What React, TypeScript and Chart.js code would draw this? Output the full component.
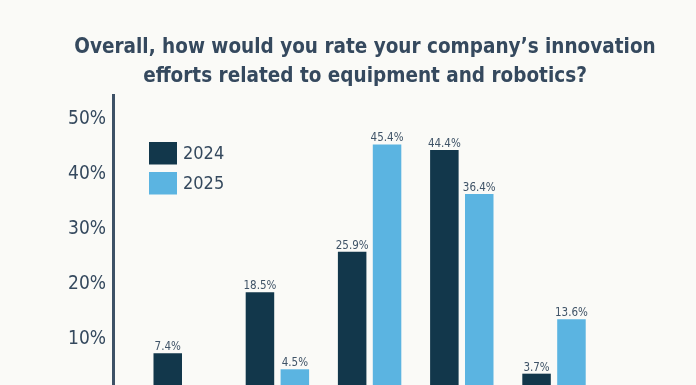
import React, { useEffect, useRef } from 'react';
import { Chart, registerables } from 'chart.js';

Chart.register(...registerables);

const TITLE_LINES = [
  'Overall, how would you rate your company’s innovation',
  'efforts related to equipment and robotics?',
];
// Category names are cropped out of the reference picture (x axis not visible)
const CATEGORIES = ['Poor', 'Fair', 'Good', 'Very good', 'Excellent'];
const SERIES_LABELS = ['2024', '2025'];
const VALUES_2024 = [7.4, 18.5, 25.9, 44.4, 3.7];
const VALUES_2025 = [0, 4.5, 45.4, 36.4, 13.6];
const Y_TICKS = [10, 20, 30, 40, 50];

const COLORS = ['#12374b', '#5bb4e1'];
const BG = '#fafaf7';
const TEXT = '#35495e';
const FONT = "'DejaVu Sans Condensed', 'DejaVu Sans', sans-serif";

const bgPlugin = {
  id: 'bg',
  beforeDraw(chart: any) {
    const { ctx, width, height } = chart;
    ctx.save();
    ctx.fillStyle = BG;
    ctx.fillRect(0, 0, width, height);
    ctx.restore();
  },
};

const valueLabels = {
  id: 'valueLabels',
  afterDatasetsDraw(chart: any) {
    const { ctx } = chart;
    ctx.save();
    ctx.font = `11.5px ${FONT}`;
    ctx.fillStyle = '#3f5367';
    ctx.textAlign = 'center';
    ctx.textBaseline = 'alphabetic';
    chart.data.datasets.forEach((ds: any, di: number) => {
      const meta = chart.getDatasetMeta(di);
      meta.data.forEach((el: any, i: number) => {
        const v = ds.data[i].y;
        if (!v) return;
        ctx.fillText(v.toFixed(1) + '%', el.x, el.y - 3);
      });
    });
    ctx.restore();
  },
};

const insideLegend = {
  id: 'insideLegend',
  afterDraw(chart: any) {
    const { ctx, chartArea } = chart;
    const x = chartArea.left + 36;
    const y0 = chartArea.top + 47;
    ctx.save();
    ctx.font = `18px ${FONT}`;
    ctx.textAlign = 'left';
    ctx.textBaseline = 'middle';
    chart.data.datasets.forEach((ds: any, i: number) => {
      const y = y0 + i * 30;
      ctx.fillStyle = ds.backgroundColor;
      ctx.fillRect(x, y, 28, 22.5);
      ctx.fillStyle = TEXT;
      ctx.fillText(ds.label, x + 34, y + 12);
    });
    ctx.restore();
  },
};

export default function App() {
  const ref = useRef<HTMLCanvasElement | null>(null);

  useEffect(() => {
    document.body.style.margin = '0';
    document.body.style.background = BG;
    document.body.style.overflow = 'hidden';
    const series = [VALUES_2024, VALUES_2025];
    const chart = new Chart(ref.current as HTMLCanvasElement, {
      type: 'bar',
      data: {
        labels: CATEGORIES,
        datasets: series.map((vals, si) => ({
          label: SERIES_LABELS[si],
          data: vals.map((v, i) => ({ x: i, y: v })),
          backgroundColor: COLORS[si],
          borderWidth: 0,
          categoryPercentage: 0.757,
          barPercentage: 0.817,
        })),
      },
      options: {
        animation: false,
        responsive: true,
        maintainAspectRatio: false,
        layout: { padding: { left: 34, right: 0, top: 0, bottom: 0 } },
        plugins: {
          legend: { display: false },
          tooltip: { enabled: false },
          title: {
            display: true,
            text: TITLE_LINES,
            color: TEXT,
            font: { family: FONT, weight: 'bold', size: 20.5, lineHeight: '29px' },
            padding: { top: 33.5, bottom: 3.5 },
          },
        },
        scales: {
          x: {
            type: 'linear',
            min: -0.783,
            max: 5.54,
            offset: false,
            display: false,
            afterBuildTicks: (s: any) => {
              s.ticks = CATEGORIES.map((_, i) => ({ value: i }));
            },
          },
          y: {
            min: 1.64,
            max: 54.4,
            afterBuildTicks: (s: any) => {
              s.ticks = Y_TICKS.map((v) => ({ value: v }));
            },
            ticks: {
              callback: (v: any) => v + '%',
              color: TEXT,
              font: { family: FONT, size: 19 },
              padding: 7,
            },
            grid: { display: false, drawTicks: false },
            border: { display: true, color: '#3d5166', width: 3 },
            afterFit: (s: any) => {
              s.width = 79;
              s.paddingTop = 0;
              s.paddingBottom = 0;
            },
          },
        },
      } as any,
      plugins: [bgPlugin, valueLabels, insideLegend],
    });
    return () => chart.destroy();
  }, []);

  return (
    <div style={{ position: 'relative', width: 696, height: 385 }}>
      <canvas ref={ref} />
    </div>
  );
}
